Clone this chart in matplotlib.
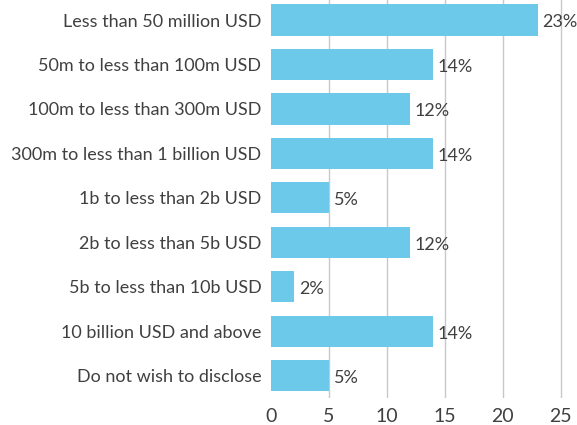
import matplotlib
matplotlib.use('Agg')
import matplotlib.pyplot as plt

categories = [
    "Less than 50 million USD",
    "50m to less than 100m USD",
    "100m to less than 300m USD",
    "300m to less than 1 billion USD",
    "1b to less than 2b USD",
    "2b to less than 5b USD",
    "5b to less than 10b USD",
    "10 billion USD and above",
    "Do not wish to disclose",
]
shares = [23, 14, 12, 14, 5, 12, 2, 14, 5]
x_ticks = [0, 5, 10, 15, 20, 25]

plt.rcParams['font.family'] = ['Lato', 'DejaVu Sans']
text_color = "#404040"

fig = plt.figure(figsize=(5.77, 4.25), dpi=100)
ax = fig.add_axes([0.4697, 0.0635, 0.5303, 0.9365])

pos = list(range(len(categories)))
ax.barh(pos, shares, height=0.7, color="#6dc9ea", zorder=2)

for p, v in zip(pos, shares):
    ax.text(v + 0.4, p + 0.05, f"{v}%", va="center", ha="left",
            fontsize=13, color=text_color)

ax.set_xlim(0, 26.4)
ax.set_ylim(8.5, -0.45)
ax.set_yticks(pos)
ax.set_yticklabels(categories, fontsize=13, color=text_color)
ax.set_xticks(x_ticks)
ax.set_xticklabels([str(t) for t in x_ticks], fontsize=14, color=text_color)
ax.tick_params(length=0)
ax.tick_params(axis='y', pad=7)
ax.tick_params(axis='x', pad=7)

for t in x_ticks[1:]:
    ax.axvline(t, color="#c8c8c8", linewidth=1, zorder=1)

for s in ax.spines.values():
    s.set_visible(False)

fig.savefig("out.png", dpi=100)
plt.close(fig)
